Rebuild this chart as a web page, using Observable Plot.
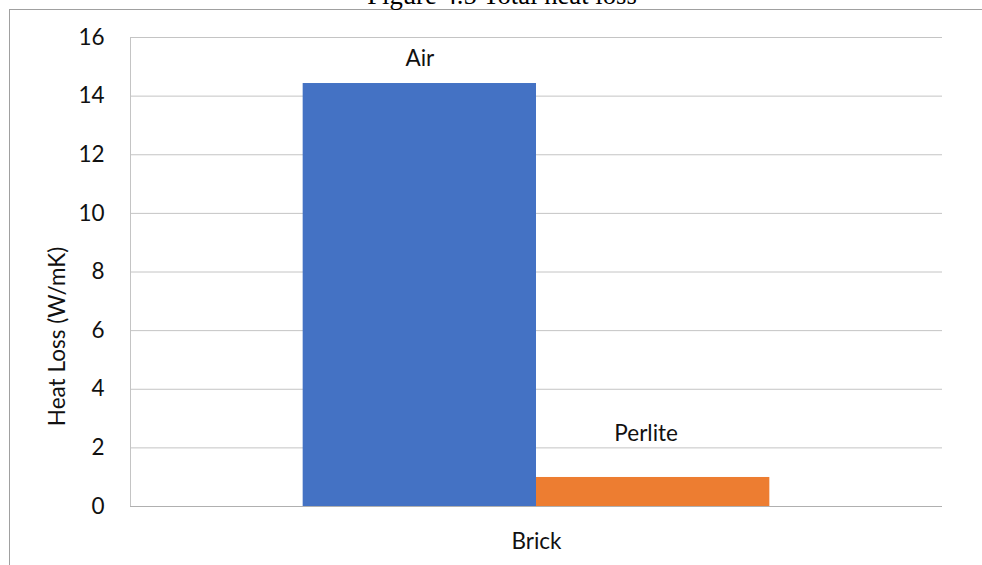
<!DOCTYPE html>
<html>
<head>
<meta charset="utf-8">
<script src="https://cdn.jsdelivr.net/npm/d3@7"></script>
<script src="https://cdn.jsdelivr.net/npm/@observablehq/plot@0.6"></script>
<style>
  html, body { margin: 0; padding: 0; background: #fff; overflow: hidden; }
  #wrap { position: relative; width: 982px; height: 565px; overflow: hidden; }
  #title {
    position: absolute; left: 0; width: 1004px; top: -18px;
    text-align: center; font-family: "Liberation Serif", serif;
    font-size: 26.7px; line-height: 26.7px; color: #000; white-space: nowrap;
  }
  #border {
    position: absolute; left: 9px; top: 9px; width: 1200px; height: 800px;
    border-left: 1px solid #a0a0a0; border-top: 1px solid #a0a0a0;
    pointer-events: none;
  }
  #chart { position: absolute; left: 0; top: 0; }
</style>
</head>
<body>
<div id="wrap">
  <div id="chart"></div>
  <div id="border"></div>
  <div id="title">Figure 4.5 Total heat loss</div>
</div>
<script>
// Wall type on the x axis, fill material as the series
const categories = ["Brick"];
const seriesNames = ["Air", "Perlite"];
const heatLoss = [14.43, 0.99];
const yTicks = [0, 2, 4, 6, 8, 10, 12, 14, 16];
const yLabel = "Heat Loss (W/mK)";

const colors = ["#4472C4", "#ED7D31"];

const rows = seriesNames.map((s, i) => ({category: categories[0], series: s, value: heatLoss[i]}));

// label nudges (px) for the series-name labels above the bars
const labelNudge = {Air: {dx: 0, dy: -18}, Perlite: {dx: -7, dy: -36}};

const gridColor = "#c4c4c4";

const chart = Plot.plot({
  width: 982,
  height: 565,
  marginLeft: 130,
  marginRight: 40,
  marginTop: 37,
  marginBottom: 59,
  style: {fontFamily: "Lato, sans-serif", fontSize: "22.5px", color: "#111", background: "transparent"},
  fx: {domain: categories, padding: 0, round: false, label: null},
  x: {domain: seriesNames, paddingInner: 0, paddingOuter: 0.74, round: false, axis: null},
  y: {domain: [0, 16], label: null},
  color: {domain: seriesNames, range: colors},
  marks: [
    Plot.ruleY(yTicks, {stroke: gridColor, strokeWidth: 1}),
    Plot.frame({anchor: "left", stroke: gridColor, strokeWidth: 1}),
    Plot.barY(rows, {fx: "category", x: "series", y: "value", fill: "series"}),
    Plot.ruleY([0], {stroke: "#b0b0b0", strokeWidth: 1}),
    ...rows.map(r => Plot.text([r], {
      fx: "category", x: "series", y: "value", text: "series",
      lineAnchor: "bottom", dx: labelNudge[r.series].dx, dy: labelNudge[r.series].dy,
      fill: "#111"
    })),
    Plot.axisY({ticks: yTicks, tickSize: 0, tickPadding: 26, label: null, tickFormat: d => String(d)}),
    Plot.axisFx({anchor: "bottom", tickSize: 0, tickPadding: 27, label: null}),
    Plot.text([yLabel], {
      frameAnchor: "left", rotate: -90, lineAnchor: "middle", textAnchor: "middle",
      dx: -73, dy: 64.5, fill: "#111"
    })
  ]
});

document.getElementById("chart").appendChild(chart);
</script>
</body>
</html>
